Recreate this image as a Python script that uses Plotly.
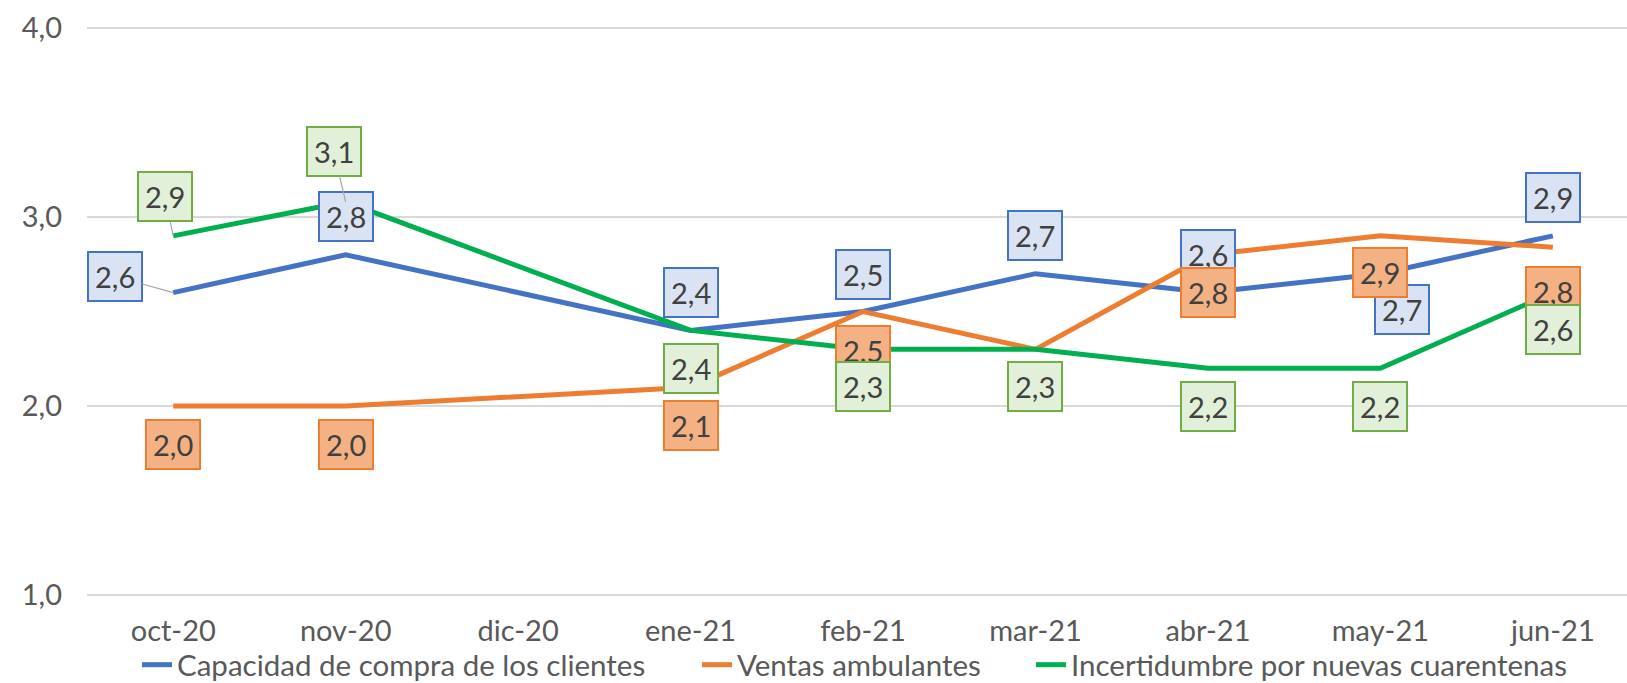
import plotly.graph_objects as go

months = ["oct-20", "nov-20", "dic-20", "ene-21", "feb-21", "mar-21", "abr-21", "may-21", "jun-21"]
capacidad = [2.6, 2.8, None, 2.4, 2.5, 2.7, 2.6, 2.7, 2.9]
ventas = [2.0, 2.0, None, 2.1, 2.5, 2.3, 2.8, 2.9, 2.84]
incertidumbre = [2.9, 3.08, None, 2.4, 2.3, 2.3, 2.2, 2.2, 2.6]
y_ticks = [1.0, 2.0, 3.0, 4.0]

names = ["Capacidad de compra de los clientes", "Ventas ambulantes", "Incertidumbre por nuevas cuarentenas"]
series = [capacidad, ventas, incertidumbre]
line_colors = ["#4472C4", "#ED7D31", "#00B050"]
box_fill = ["#DAE3F3", "#F4B183", "#E2F0D9"]
box_border = ["#4472C4", "#ED7D31", "#70AD47"]
legend_text_x = [182, 742, 1076]  # pixel where each legend text starts

# label offsets in screen pixels (dx right, dy down); None = no label; third item: leader line
offsets = [
    [(-58, -16, True), (0, -38, False), None, (0, -38, False), (0, -37, False), (0, -38, False), (0, -38, False), (22, 36, False), (0, -38, False)],
    [(0, 38, False), (0, 38, False), None, (0, 38, False), (0, 39, False), None, (0, 38, False), (0, 37, False), (0, 44, False)],
    [(-8, -39, True), (-12, -50, True), None, (0, 38, False), (0, 37, False), (0, 37, False), (0, 38, False), (0, 38, False), (0, 37, False)],
]

FONT = "Lato"
W, H = 1627, 683
ML, MR, MT, MB = 87, 0, 24, 84
PLOT_W, PLOT_H = W - ML - MR, H - MT - MB

fig = go.Figure()
legend_keys = ["legend", "legend2", "legend3"]
for name, vals, col, lk in zip(names, series, line_colors, legend_keys):
    fig.add_trace(go.Scatter(x=months, y=vals, name=name, mode="lines", legend=lk,
                             line=dict(color=col, width=5), connectgaps=True))

annotations = []
for s, vals in enumerate(series):
    for i, v in enumerate(vals):
        off = offsets[s][i]
        if v is None or off is None:
            continue
        dx, dy, leader = off
        txt = f"{v:.1f}".replace(".", ",")
        common = dict(x=months[i], y=v, xref="x", yref="y", text=txt,
                      font=dict(family=FONT, size=29, color="#404040"),
                      bgcolor=box_fill[s], bordercolor=box_border[s], borderwidth=2, borderpad=6)
        if leader:
            annotations.append(dict(**common, showarrow=True, ax=dx, ay=dy, arrowhead=0,
                                    arrowwidth=1.2, arrowcolor="#A6A6A6", standoff=0))
        else:
            annotations.append(dict(**common, showarrow=False, xshift=dx, yshift=-dy))

legend_center_y = 665
legend_common = dict(orientation="h", xref="paper", xanchor="left", yref="paper",
                     y=-(legend_center_y - (MT + PLOT_H)) / PLOT_H, yanchor="middle",
                     font=dict(family=FONT, size=29.5, color="#595959"), bgcolor="rgba(0,0,0,0)")
legends = {}
for lk, tx in zip(legend_keys, legend_text_x):
    legends[lk] = dict(**legend_common, x=(tx - 45 - ML) / PLOT_W)

fig.update_layout(
    width=W, height=H,
    margin=dict(l=ML, r=MR, t=MT, b=MB, autoexpand=False),
    paper_bgcolor="white", plot_bgcolor="white",
    separators=",.",
    font=dict(family=FONT, size=29, color="#595959"),
    showlegend=True,
    annotations=annotations,
    **legends,
)
fig.update_xaxes(range=[-0.5, 8.43], showgrid=False, showline=False, ticks="", ticklabelstandoff=12,
                 tickfont=dict(family=FONT, size=29, color="#595959"))
fig.update_yaxes(range=[0.98, 4.02], tickvals=y_ticks, tickformat=".1f", showgrid=True, gridcolor="#D9D9D9",
                 gridwidth=1.5, zeroline=False, showline=False, ticks="", ticklabelstandoff=24,
                 tickfont=dict(family=FONT, size=29, color="#595959"))

fig.write_html("out.html", config={"displayModeBar": False},
               post_script="document.body.style.margin='0';document.body.style.overflow='hidden';")
